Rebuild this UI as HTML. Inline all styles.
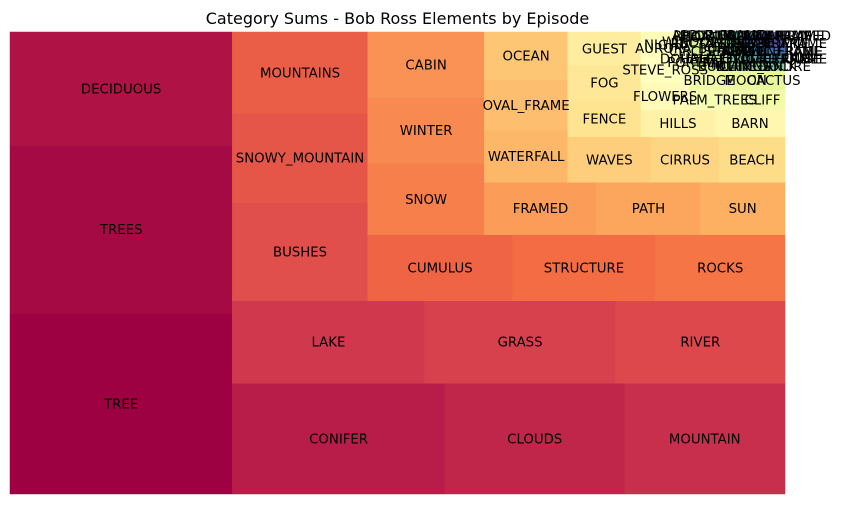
<!DOCTYPE html>
<html><head><meta charset="utf-8"><style>
body{margin:0;background:#fff;width:861px;height:504px;overflow:hidden;font-family:"DejaVu Sans","Liberation Sans",sans-serif}
</style></head><body>
<svg id="chart" width="861" height="504" xmlns="http://www.w3.org/2000/svg">
<text x="397.5" y="24" text-anchor="middle" font-size="16" fill="#000">Category Sums - Bob Ross Elements by Episode</text>
<g id="cells"></g><g id="labels"></g>
</svg>
<script>
const categories = ["TREE","TREES","DECIDUOUS","CONIFER","CLOUDS","MOUNTAIN","LAKE","GRASS","RIVER","BUSHES","SNOWY_MOUNTAIN","MOUNTAINS","CUMULUS","STRUCTURE","ROCKS","SNOW","WINTER","CABIN","FRAMED","PATH","SUN","WATERFALL","OVAL_FRAME","OCEAN","WAVES","CIRRUS","BEACH","FENCE","FOG","GUEST","HILLS","BARN","FLOWERS","STEVE_ROSS","NIGHT","PALM_TREES","CLIFF","BRIDGE","MOON","CACTUS","PORTRAIT","AURORA_BOREALIS","BOAT","MILL","CIRCLE_FRAME","WINDOW_FRAME","APPLE_FRAME","BUILDINGS","CHIMNEY","DIANE_ANDRE","DOCK","DOUBLE_OVAL_FRAME","FARM","FIRE","FLORIDA_FRAME","HALF_CIRCLE_FRAME","HALF_OVAL_FRAME","LIGHTHOUSE","PERSON","RECTANGLE_3D_FRAME","RECTANGULAR_FRAME","SEASHELL_FRAME","SPLIT_FRAME","TOMB_FRAME","TRIPLE_FRAME","WINDMILL","WOOD_FRAMED"];
const values = [361,337,227,212,179,160,143,142,126,120,109,99,86,85,77,75,69,69,53,49,40,39,38,36,34,28,27,24,23,22,18,17,12,11,11,9,8,7,6,4,3,2,2,2,2,1,1,1,1,1,1,1,1,1,1,1,1,1,1,1,1,1,1,1,1,1,1];

const BOX={x:10,y:32,w:775,h:462};
const stops=["#9e0142","#d53e4f","#f46d43","#fdae61","#fee08b","#ffffbf","#e6f598","#abdda4","#66c2a5","#3288bd","#5e4fa2"];
function hex(c){return [1,3,5].map(i=>parseInt(c.substr(i,2),16));}
function spectral(t){t=Math.max(0,Math.min(1,t));const p=t*10,i=Math.min(9,Math.floor(p)),f=p-i;const a=hex(stops[i]),b=hex(stops[i+1]);return "rgb("+a.map((v,k)=>Math.round(v+(b[k]-v)*f)).join(",")+")";}

function layoutrow(s,x,y,dx,dy){const c=s.reduce((a,b)=>a+b,0),h=c/dx;const r=[];for(const v of s){r.push({x:x,y:y,dx:v/h,dy:h});x+=v/h;}return r;}
function layoutcol(s,x,y,dx,dy){const c=s.reduce((a,b)=>a+b,0),w=c/dy;const r=[];for(const v of s){r.push({x:x,y:y,dx:w,dy:v/w});y+=v/w;}return r;}
function layout(s,x,y,dx,dy){return dx>=dy?layoutcol(s,x,y,dx,dy):layoutrow(s,x,y,dx,dy);}
function leftover(s,x,y,dx,dy){const c=s.reduce((a,b)=>a+b,0);if(dx>=dy){const w=c/dy;return [x+w,y,dx-w,dy];}const h=c/dx;return [x,y+h,dx,dy-h];}
function worst(s,x,y,dx,dy){return Math.max(...layout(s,x,y,dx,dy).map(r=>Math.max(r.dx/r.dy,r.dy/r.dx)));}
function squarify(s,x,y,dx,dy){if(!s.length)return[];if(s.length===1)return layout(s,x,y,dx,dy);let i=1;while(i<s.length&&worst(s.slice(0,i),x,y,dx,dy)>=worst(s.slice(0,i+1),x,y,dx,dy))i++;const cur=s.slice(0,i),rem=s.slice(i);const[lx,ly,ldx,ldy]=leftover(cur,x,y,dx,dy);return layout(cur,x,y,dx,dy).concat(squarify(rem,lx,ly,ldx,ldy));}

const total=values.reduce((a,b)=>a+b,0);
const norm=values.map(v=>v*10000/total);
const rects=squarify(norm,0,0,100,100);
const sx=v=>BOX.x+v/100*BOX.w, sy=v=>BOX.y+(100-v)/100*BOX.h;
const NS="http://www.w3.org/2000/svg";
const gc=document.getElementById("cells"),gl=document.getElementById("labels");
rects.forEach((r,i)=>{
  const el=document.createElementNS(NS,"rect");
  
  
  const x0=sx(r.x),x1=sx(r.x+r.dx),y0=sy(r.y+r.dy),y1=sy(r.y);
  const col=spectral(categories.length>1?i/(categories.length-1):0);
  el.setAttribute("x",x0);el.setAttribute("y",y0);el.setAttribute("width",x1-x0);el.setAttribute("height",y1-y0);
  el.setAttribute("fill",col);el.setAttribute("stroke",col);el.setAttribute("stroke-width","0.5");
  gc.appendChild(el);
  const t=document.createElementNS(NS,"text");
  
  
  t.setAttribute("x",(x0+x1)/2);t.setAttribute("y",(y0+y1)/2+4.7);
  t.setAttribute("text-anchor","middle");t.setAttribute("font-size","13.3");t.setAttribute("fill","#000");
  t.textContent=categories[i];
  gl.appendChild(t);
});
</script>
</body></html>
